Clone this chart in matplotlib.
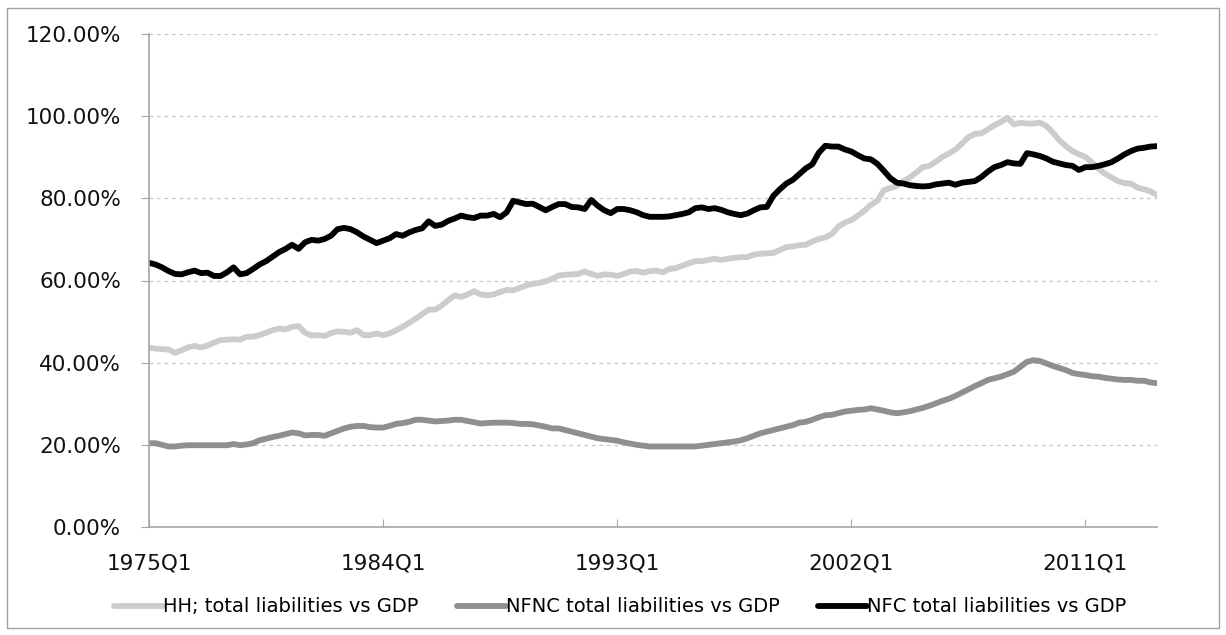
import matplotlib.pyplot as plt
import numpy as np
from matplotlib.patches import Rectangle
from matplotlib.ticker import FuncFormatter

plt.rcParams['font.family'] = ['DejaVu Sans']

# quarterly data 1975Q1 .. 2013Q4, % of GDP
hh = [
    43.7, 43.4, 43.3, 43.2, 42.4, 43.0, 43.7, 44.1, 43.7, 44.2, 44.9, 45.5, 45.6,
    45.7, 45.6, 46.3, 46.3, 46.7, 47.3, 47.9, 48.3, 48.1, 48.7, 48.9, 47.3, 46.6,
    46.7, 46.5, 47.2, 47.6, 47.5, 47.3, 47.9, 46.7, 46.7, 47.1, 46.7, 47.1, 47.9,
    48.7, 49.7, 50.7, 51.8, 52.9, 52.9, 53.9, 55.2, 56.4, 56.0, 56.6, 57.4, 56.6,
    56.4, 56.6, 57.2, 57.7, 57.6, 58.2, 58.8, 59.2, 59.4, 59.8, 60.4, 61.2, 61.4,
    61.5, 61.6, 62.2, 61.6, 61.1, 61.5, 61.4, 61.1, 61.6, 62.2, 62.3, 61.9, 62.3,
    62.4, 62.0, 62.8, 63.0, 63.6, 64.2, 64.7, 64.7, 65.0, 65.3, 65.0, 65.3, 65.5,
    65.7, 65.7, 66.3, 66.5, 66.6, 66.7, 67.4, 68.1, 68.3, 68.6, 68.7, 69.5, 70.1,
    70.5, 71.3, 73.1, 74.1, 74.7, 75.8, 77.0, 78.4, 79.4, 82.0, 82.5, 83.0, 84.1,
    85.1, 86.3, 87.6, 87.9, 88.9, 90.1, 90.9, 91.9, 93.3, 94.9, 95.7, 95.8, 96.8,
    97.8, 98.6, 99.6, 98.0, 98.4, 98.2, 98.2, 98.4, 97.6, 96.0, 94.1, 92.7, 91.5,
    90.7, 90.1, 88.7, 87.2, 86.0, 85.1, 84.2, 83.7, 83.6, 82.6, 82.2, 81.7, 80.8,
]
nfnc = [
    20.4, 20.4, 20.0, 19.6, 19.6, 19.8, 19.9, 19.9, 19.9, 19.9, 19.9, 19.9, 19.9,
    20.2, 19.9, 20.1, 20.4, 21.1, 21.5, 21.9, 22.2, 22.6, 23.0, 22.8, 22.3, 22.4,
    22.4, 22.2, 22.8, 23.4, 24.0, 24.4, 24.6, 24.6, 24.3, 24.2, 24.2, 24.6, 25.1,
    25.3, 25.6, 26.1, 26.1, 25.9, 25.7, 25.8, 25.9, 26.1, 26.1, 25.8, 25.5, 25.2,
    25.3, 25.4, 25.4, 25.4, 25.3, 25.1, 25.1, 25.0, 24.7, 24.4, 24.0, 24.0, 23.6,
    23.2, 22.8, 22.4, 22.0, 21.6, 21.4, 21.2, 21.0, 20.6, 20.3, 20.0, 19.8, 19.6,
    19.6, 19.6, 19.6, 19.6, 19.6, 19.6, 19.6, 19.8, 20.0, 20.2, 20.4, 20.6, 20.8,
    21.1, 21.6, 22.2, 22.8, 23.2, 23.6, 24.0, 24.4, 24.8, 25.4, 25.6, 26.1, 26.7,
    27.2, 27.3, 27.7, 28.1, 28.3, 28.5, 28.6, 28.9, 28.6, 28.3, 27.9, 27.7, 27.9,
    28.2, 28.6, 29.0, 29.5, 30.1, 30.7, 31.2, 31.9, 32.7, 33.5, 34.3, 35.0, 35.8,
    36.2, 36.6, 37.2, 37.8, 39.0, 40.2, 40.6, 40.4, 39.8, 39.2, 38.7, 38.2, 37.5,
    37.2, 37.0, 36.7, 36.6, 36.3, 36.1, 35.9, 35.8, 35.8, 35.6, 35.6, 35.2, 35.0,
]
nfc = [
    64.3, 63.9, 63.2, 62.3, 61.6, 61.5, 62.0, 62.4, 61.8, 61.9, 61.1, 61.1, 62.0,
    63.2, 61.5, 61.8, 62.8, 63.9, 64.7, 65.8, 66.9, 67.7, 68.7, 67.7, 69.3, 69.9,
    69.7, 70.1, 70.9, 72.5, 72.8, 72.5, 71.7, 70.7, 69.9, 69.1, 69.7, 70.3, 71.3,
    70.9, 71.7, 72.3, 72.7, 74.4, 73.3, 73.6, 74.5, 75.1, 75.8, 75.4, 75.2, 75.8,
    75.8, 76.2, 75.4, 76.6, 79.4, 79.0, 78.6, 78.7, 77.9, 77.1, 77.9, 78.6, 78.6,
    77.9, 77.8, 77.4, 79.6, 78.2, 77.1, 76.4, 77.4, 77.4, 77.1, 76.6, 75.9, 75.5,
    75.5, 75.5, 75.6, 75.9, 76.2, 76.6, 77.6, 77.8, 77.4, 77.6, 77.2, 76.6, 76.2,
    75.9, 76.3, 77.1, 77.8, 77.9, 80.6, 82.2, 83.6, 84.5, 85.9, 87.3, 88.3, 91.1,
    92.8, 92.6, 92.6, 91.9, 91.4, 90.5, 89.7, 89.5, 88.4, 86.7, 84.9, 83.8, 83.6,
    83.2, 83.0, 82.9, 83.0, 83.4, 83.6, 83.8, 83.3, 83.8, 84.0, 84.2, 85.2, 86.5,
    87.6, 88.1, 88.8, 88.5, 88.4, 91.0, 90.7, 90.3, 89.7, 88.9, 88.5, 88.1, 87.9,
    86.9, 87.6, 87.6, 87.9, 88.3, 88.8, 89.7, 90.7, 91.5, 92.1, 92.3, 92.6, 92.7,
]
quarters = [f"{y}Q{q}" for y in range(1975, 2014) for q in range(1, 5)]

series_names = ['HH; total liabilities vs GDP', 'NFNC total liabilities vs GDP', 'NFC total liabilities vs GDP']
series_colors = ['#cccccc', '#8f8f8f', '#000000']

x = np.arange(len(quarters))

fig = plt.figure(figsize=(12.26, 6.35), dpi=100)
ax = fig.add_axes([149/1226, 1 - 527/635, 1008/1226, 493/635])

for vals, name, col in zip([hh, nfnc, nfc], series_names, series_colors):
    ax.plot(x, vals, color=col, lw=4.2, label=name, solid_joinstyle='round', solid_capstyle='round')

ax.set_xlim(0, len(quarters) - 1)
ax.set_ylim(0, 120)
ax.set_yticks(np.arange(0, 121, 20))
ax.yaxis.set_major_formatter(FuncFormatter(lambda v, p: f"{v:.2f}%"))
ticks = x[::36]
ax.set_xticks(ticks)
ax.set_xticklabels([quarters[i] for i in ticks])

ax.grid(axis='y', color='#c6c6c6', ls=(0, (3, 3)), lw=0.9)
ax.set_axisbelow(True)
for s in ['top', 'right']:
    ax.spines[s].set_visible(False)
for s in ['left', 'bottom']:
    ax.spines[s].set_color('#a6a6a6')
    ax.spines[s].set_linewidth(1.2)
ax.tick_params(axis='y', direction='out', length=6, color='#a6a6a6', pad=14, labelsize=15.5, labelcolor='#111111')
ax.tick_params(axis='x', direction='in', length=6, color='#a6a6a6', pad=19, labelsize=15.5, labelcolor='#111111')

fig.legend(loc='center', bbox_to_anchor=(0.506, 1 - 607/635), ncol=3, frameon=False,
           fontsize=14, handlelength=2.5, handletextpad=0.0, columnspacing=2.0)

fig.add_artist(Rectangle((7/1226, 1 - 628/635), 1212/1226, 620/635, transform=fig.transFigure,
                         fill=False, ec='#a0a0a0', lw=1))

fig.savefig('out.png', dpi=100)
